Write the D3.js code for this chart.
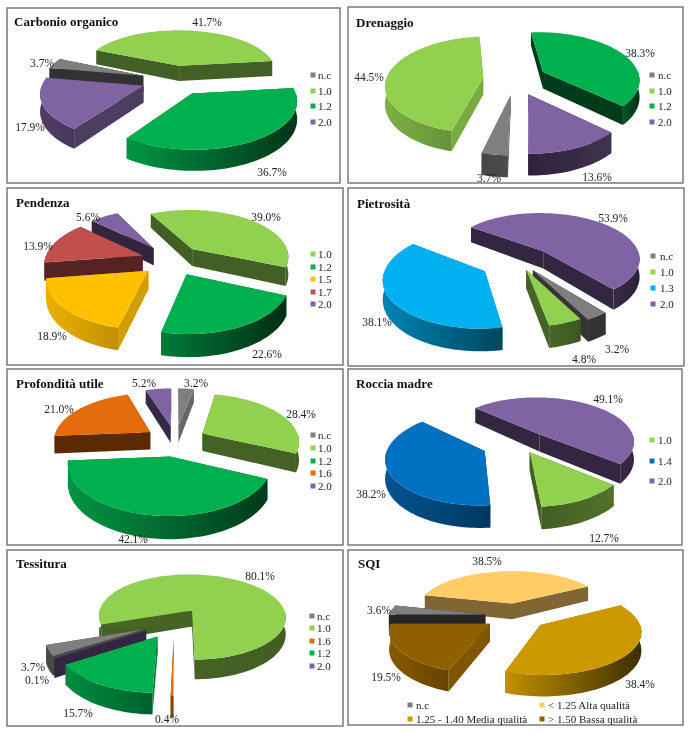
<!DOCTYPE html>
<html><head><meta charset="utf-8">
<script src="https://cdn.jsdelivr.net/npm/d3@7/dist/d3.min.js"></script>
<style>html,body{margin:0;padding:0;background:#fff}svg{display:block}text{font-family:"Liberation Serif",serif;fill:#222}</style>
</head><body><script>
// ---------- data ----------
const catCarbonio=["n.c","1.0","1.2","2.0"],        valCarbonio=[3.7,41.7,36.7,17.9];
const catDrenaggio=["n.c","1.0","1.2","2.0"],       valDrenaggio=[3.7,44.5,38.3,13.6];
const catPendenza=["1.0","1.2","1.5","1.7","2.0"],  valPendenza=[39.0,22.6,18.9,13.9,5.6];
const catPietrosita=["n.c","1.0","1.3","2.0"],      valPietrosita=[3.2,4.8,38.1,53.9];
const catProfondita=["n.c","1.0","1.2","1.6","2.0"],valProfondita=[3.2,28.4,42.1,21.0,5.2];
const catRoccia=["1.0","1.4","2.0"],                valRoccia=[12.7,38.2,49.1];
const catTessitura=["n.c","1.0","1.6","1.2","2.0"], valTessitura=[3.7,80.1,0.4,15.7,0.1];
const catSQI=["n.c","< 1.25 Alta qualità","1.25 - 1.40 Media qualità","> 1.50 Bassa qualità"], valSQI=[3.6,38.5,38.4,19.5];
const titles=["Carbonio organico","Drenaggio","Pendenza","Pietrosità","Profondità utile","Roccia madre","Tessitura","SQI"];

// ---------- styling and layout ----------
const G="#7f7f7f",L="#92d050",V="#00b050",P="#8064a2",Y="#ffc000",R="#c0504d",O="#e36c0a",C="#00b0f0",B="#0070c0";
const panels=[
 {cat:catCarbonio,val:valCarbonio,col:[G,L,V,P],box:[7,8,340,183],t:[14,26],cx:174.5,cy:80,e:33,k:.46,r:100,d:16.5,a:280,
  wall:[.38,.46,.6,.6],rim:[[.5,.4],[.46,.46],[.85,.3],[.62,.55]],
  lab:[[42,63],[207,22],[272,172],[30,127]],lx:313,tx:318,ly:[75,91,106,122]},
 {cat:catDrenaggio,val:valDrenaggio,col:[G,L,V,P],box:[348,7,683,183],t:[356,27],cx:515,cy:79,e:32,k:.5,r:97,d:17,a:181,
  wall:[.75,.82,.33,.45],rim:[[.55,.6],[.85,.7],[.5,.28],[.35,.5]],
  lab:[[489,178],[369,77],[640,53],[597,177]],lx:652,tx:658,ly:[75,91,106,122]},
 {cat:catPendenza,val:valPendenza,col:[L,V,Y,R,P],box:[7,188,343,365],t:[16,207],cx:172,cy:260,e:31,k:.5,r:98,d:18,a:-28,
  wall:[.46,.85,.82,.45,.38],rim:[[.46,.46],[.7,.25],[.92,.75],[.45,.45],[.38,.38]],
  lab:[[266,217],[267,354],[52,336],[38,246],[88,217]],lx:313,tx:318,ly:[254,267,279,292,304]},
 {cat:catPietrosita,val:valPietrosita,col:[G,L,C,P],box:[348,188,684,366],t:[357,208],cx:519.5,cy:262,e:40,ex:[.58,.48,1,.9],ey:.86,k:.49,r:98,d:18,a:140,
  wall:[.42,.48,.7,.4],rim:[[.4,.4],[.5,.42],[.75,.4],[.42,.35]],
  lab:[[617,349],[584,359],[377,322],[613,218]],lx:653,tx:660,ly:[256,272,288,304]},
 {cat:catProfondita,val:valProfondita,col:[G,L,V,O,P],box:[7,369,343,545],t:[16,388],cx:175.5,cy:440.5,e:31,k:.5,r:97,d:18,a:0,
  wall:[.8,.47,.7,.4,.42],rim:[[.7,.7],[.47,.45],[.85,.33],[.4,.4],[.42,.42]],
  lab:[[196,383],[301,414],[133,539],[59,409],[144,383]],lx:313,tx:318,ly:[435,448,461,473,486]},
 {cat:catRoccia,val:valRoccia,col:[L,B,P],box:[348,369,682,545],t:[356,388],cx:519,cy:444,e:39.5,ex:[.56,.95,.82],ey:.85,k:.48,r:96,d:18,a:129,
  wall:[.45,.7,.4],rim:[[.45,.55],[.75,.5],[.42,.38]],
  lab:[[604,538],[371,494],[608,399]],lx:652,tx:658,ly:[440,461,481]},
 {cat:catTessitura,val:valTessitura,col:[G,L,O,V,P],box:[7,550,343,726],t:[16,568],cx:174,cy:622.5,e:32,k:.48,r:96,d:17,a:238.3,
  wall:[.55,.47,.6,.7,.4],rim:[[.55,.55],[.5,.45],[.6,.6],[.8,.55],[.4,.4]],
  lab:[[33,667],[260,576],[167,719],[78,713],[37,680]],lx:312,tx:317,ly:[616,628,641,653,666]},
 {cat:catSQI,val:valSQI,col:[G,"#ffcc66","#cc9900","#8f6000"],box:[348,550,683,725],t:[358,568],cx:516,cy:616,e:31,k:.43,r:97,d:17,a:-90,
  wall:[.3,.5,.9,.9],rim:[[.3,.3],[.5,.5],[.95,.3],[.95,.7]],
  lab:[[379,610],[487,561],[640,684],[386,677]],
  legend:[[410,416,705],[542,548,705],[410,416,719],[542,548,719]]}
];
panels.forEach((p,i)=>p.title=titles[i]);
const persp=.14, rad=Math.PI/180;
const fmt=d=>d3.format(".1f")(d)+"%";
const shade=(c,s)=>{const q=d3.rgb(c);return d3.rgb(q.r*s,q.g*s,q.b*s).formatHex();};

const svg=d3.select("body").append("svg").attr("width",691).attr("height",733).attr("viewBox","0 0 691 733");
const defs=svg.append("defs");
defs.append("filter").attr("id","soft").attr("x",0).attr("y",0).attr("width","100%").attr("height","100%")
  .append("feGaussianBlur").attr("stdDeviation",.4);
const root=svg.append("g").attr("filter","url(#soft)");
root.append("rect").attr("width",691).attr("height",733).attr("fill","#fff");
const line=d3.line(), closed=pts=>line(pts)+"Z";
let gid=0;

panels.forEach(p=>{
  const g=root.append("g");
  const [x0,y0,x1,y1]=p.box;
  g.append("rect").attr("x",x0).attr("y",y0).attr("width",x1-x0).attr("height",y1-y0)
    .attr("fill","#fff").attr("stroke","#6f6f6f").attr("stroke-width",1.4);
  g.append("text").attr("x",p.t[0]).attr("y",p.t[1]).attr("font-size",13).attr("font-weight","bold").style("fill","#111").text(p.title);

  const color=d3.scaleOrdinal().domain(p.cat).range(p.col);
  const arcs=d3.pie().sort(null).startAngle(p.a*rad).endAngle(p.a*rad+2*Math.PI)(p.val);
  const radial=d3.scaleLinear().domain([0,1]).range([0,p.r]);
  const sl=arcs.map((d,i)=>({i,a0:d.startAngle,a1:d.endAngle,m:(d.startAngle+d.endAngle)/2}));
  sl.sort((a,b)=>-Math.cos(a.m)+Math.cos(b.m));
  sl.forEach(s=>{
    const c=color(p.cat[s.i]);
    const e=p.e*(p.ex?p.ex[s.i]:1);
    const ax=e*Math.sin(s.m), ay=-e*Math.cos(s.m)*(p.ey||1);
    const proj=(X,Yy,z)=>{const f=1+persp*Yy/p.r;return [p.cx+X*f,p.cy+Yy*p.k*f+z*p.d*Math.pow(f,1.5)];};
    const rimPt=(t,z)=>proj(ax+radial(1)*Math.sin(t),ay-radial(1)*Math.cos(t),z);
    const n=Math.max(2,Math.ceil((s.a1-s.a0)/(2*rad)));
    const ts=d3.range(n+1).map(j=>s.a0+(s.a1-s.a0)*j/n);
    const sg=g.append("g");
    // radial walls
    [s.a0,s.a1].forEach(t=>{
      sg.append("path").attr("fill",shade(c,p.wall[s.i]))
        .attr("d",closed([proj(ax,ay,0),rimPt(t,0),rimPt(t,1),proj(ax,ay,1)]));
    });
    // outer front-facing wall
    const front=ts.filter(t=>Math.cos(t)<=0.02);
    if(front.length>1){
      const pts=front.map(t=>rimPt(t,0)).concat(front.slice().reverse().map(t=>rimPt(t,1)));
      const ex=d3.extent(pts,q=>q[0]), id="g"+(gid++);
      const lg=defs.append("linearGradient").attr("id",id).attr("gradientUnits","userSpaceOnUse")
        .attr("x1",ex[0]).attr("x2",ex[1]).attr("y1",0).attr("y2",0);
      lg.append("stop").attr("offset",0).attr("stop-color",shade(c,p.rim[s.i][0]));
      lg.append("stop").attr("offset",1).attr("stop-color",shade(c,p.rim[s.i][1]));
      sg.append("path").attr("fill",`url(#${id})`).attr("d",closed(pts));
    }
    // top face
    sg.append("path").attr("fill",c).attr("d",closed([proj(ax,ay,0)].concat(ts.map(t=>rimPt(t,0)))));
  });
  // data labels
  p.val.forEach((v,i)=>{
    g.append("text").attr("x",p.lab[i][0]).attr("y",p.lab[i][1]+4).attr("text-anchor","middle")
      .attr("font-size",11.5).text(fmt(v));
  });
  // legend
  p.cat.forEach((c,i)=>{
    const sx=p.legend?p.legend[i][0]:p.lx, tx=p.legend?p.legend[i][1]:p.tx, yy=p.legend?p.legend[i][2]:p.ly[i];
    g.append("rect").attr("x",sx-2.5).attr("y",yy-2.5).attr("width",5).attr("height",5).attr("fill",color(c));
    g.append("text").attr("x",tx).attr("y",yy+4).attr("font-size",11).text(c);
  });
});
</script></body></html>
